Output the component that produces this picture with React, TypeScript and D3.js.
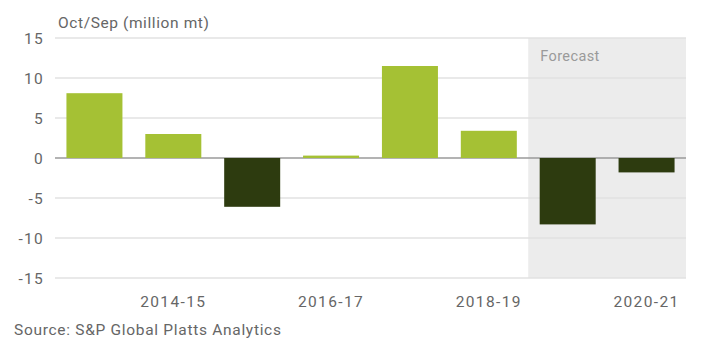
import React from "react";
import * as d3 from "d3";

const categories = ["2013-14", "2014-15", "2015-16", "2016-17", "2017-18", "2018-19", "2019-20", "2020-21"];
const values = [8.1, 3.0, -6.1, 0.3, 11.5, 3.4, -8.3, -1.8];
const yTicks = [15, 10, 5, 0, -5, -10, -15];
const xLabels = ["2014-15", "2016-17", "2018-19", "2020-21"];
const forecastStart = "2019-20";

const W = 706, H = 353;
const left = 55, right = 686, top = 38, bottom = 278;

export default function App() {
  const x = d3.scaleBand().domain(categories).range([left, right]).paddingInner(0.29).paddingOuter(0.145);
  const y = d3.scaleLinear().domain([-15, 15]).range([bottom, top]);
  const step = x.step();
  const fx = (x(forecastStart) as number) - step * x.paddingInner() / 2;
  const font = "Roboto, 'Noto Sans', sans-serif";
  return (
    <svg width={W} height={H} style={{ position: "absolute", left: 0, top: 0 }}>
      <rect x={0} y={0} width={W} height={H} fill="#fff" />
      <rect x={fx} y={top} width={right - fx} height={bottom - top} fill="#ececec" />
      {yTicks.map((t) => (
        <g key={t}>
          <line x1={left} x2={right} y1={y(t)} y2={y(t)} stroke={t === 0 ? "#9a9a9a" : "#e2e2e2"} strokeWidth={1.5} />
          <text x={44} y={y(t)} dy="0.36em" textAnchor="end" fontSize={15.5} letterSpacing={1.3} fill="#666" fontFamily={font}>
            {t}
          </text>
        </g>
      ))}
      {categories.map((c, i) => (
        <rect
          key={c}
          x={x(c)}
          width={x.bandwidth()}
          y={y(Math.max(0, values[i]))}
          height={Math.abs(y(values[i]) - y(0))}
          fill={values[i] >= 0 ? "#a5c134" : "#2d3b0f"}
        />
      ))}
      <text x={fx + 12} y={61} fontSize={14.5} letterSpacing={0.4} fill="#9a9a9a" fontFamily={font}>Forecast</text>
      {xLabels.map((l) => (
        <text key={l} x={(x(l) as number) + x.bandwidth() / 2} y={307} textAnchor="middle" fontSize={15.5} letterSpacing={1.4} fill="#666" fontFamily={font}>
          {l}
        </text>
      ))}
      <text x={58} y={28} fontSize={15.5} letterSpacing={0.6} fill="#666" fontFamily={font}>Oct/Sep (million mt)</text>
      <text x={14} y={335} fontSize={15.5} letterSpacing={0.7} fill="#666" fontFamily={font}>Source: S&amp;P Global Platts Analytics</text>
    </svg>
  );
}
